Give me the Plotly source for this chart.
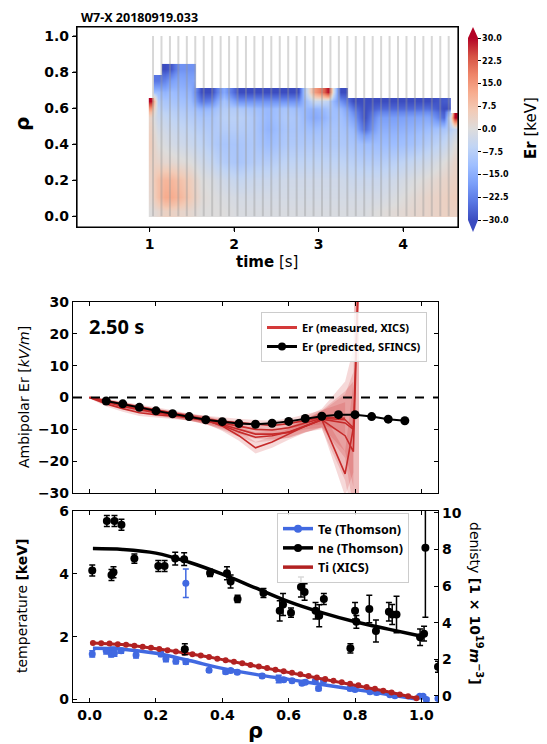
import plotly.graph_objects as go

# the page adds an 8 px body margin, so the figure is sized to fill the rest of the window
OFF = 8
W, H = 547 - OFF, 744 - OFF
def px(x): return (x - OFF) / W
def py(y): return 1 - (y - OFF) / H

N = None
# ---------------- top panel: Er(time, rho) ----------------
t_edges = [0.99, 1.05, 1.14, 1.22, 1.30, 1.42, 1.55, 1.68, 1.80, 1.96, 2.15, 2.30, 2.50,
           2.68, 2.84, 3.06, 3.17, 3.35, 3.47, 3.62, 3.80, 4.00, 4.20, 4.40, 4.57, 4.65]
rho_edges = [-0.005, 0.06, 0.15, 0.25, 0.35, 0.45, 0.52, 0.58, 0.62, 0.66, 0.715, 0.79, 0.845]
# one list per time column, rho rows from centre to edge (keV colour units)
er_columns = [
    [0, 2, 3, 4, 5, 4, 3, 15, 30, N, N, N],
    [2, 8, 8, 3, 0, -2, -4, -6, -8, -12, -24, N],
    [4, 12, 10, 2, -1, -3, -5, -8, -10, -14, -22, -30],
    [4, 12, 10, 2, -2, -4, -6, -8, -10, -12, -18, -28],
    [3, 10, 8, 1, -3, -5, -7, -9, -11, -13, -16, -20],
    [2, 6, 5, 0, -4, -6, -8, -10, -12, -14, -17, -20],
    [0, 1, 0, -3, -6, -8, -10, -14, -24, -30, N, N],
    [0, 0, -1, -5, -8, -9, -10, -13, -22, -30, N, N],
    [0, -1, -3, -8, -10, -8, -7, -8, -10, -16, N, N],
    [-1, -2, -5, -10, -10, -8, -7, -9, -20, -30, N, N],
    [-1, -2, -4, -8, -9, -9, -9, -11, -20, -30, N, N],
    [-1, -2, -4, -8, -12, -14, -13, -13, -20, -30, N, N],
    [-1, -2, -3, -6, -9, -10, -9, -10, -20, -30, N, N],
    [-1, -2, -3, -6, -9, -10, -10, -12, -20, -30, N, N],
    [-1, -2, -3, -6, -9, -12, -16, -14, -4, 14, N, N],
    [-1, -2, -3, -6, -9, -10, -12, -10, -6, 30, N, N],
    [-1, -2, -3, -6, -9, -10, -11, -13, -20, -30, N, N],
    [-1, -2, -4, -7, -10, -13, -18, -24, -30, N, N, N],
    [-1, -2, -4, -8, -12, -26, -30, -30, -30, N, N, N],
    [0, -2, -4, -8, -12, -15, -18, -26, -30, N, N, N],
    [1, -1, -3, -7, -12, -15, -18, -26, -30, N, N, N],
    [2, 1, -1, -5, -11, -14, -17, -26, -30, N, N, N],
    [3, 3, 1, -3, -8, -12, -16, -25, -30, N, N, N],
    [4, 4, 3, 0, -5, -10, -26, -30, -28, N, N, N],
    [4, 5, 4, 3, 0, -5, 30, N, N, N, N, N],
]
slice_times = [1.04, 1.14, 1.24, 1.34, 1.44, 1.54, 1.64, 1.74, 1.84, 1.94, 2.04, 2.14,
               2.24, 2.34, 2.44, 2.54, 2.64, 2.74, 2.84, 2.94, 3.04, 3.14, 3.24, 3.34,
               3.44, 3.54, 3.64, 3.74, 3.84, 3.94, 4.04, 4.14, 4.24, 4.34, 4.44, 4.54]
cbar_ticks = [-30, -22.5, -15, -7.5, 0, 7.5, 15, 22.5, 30]
time_ticks = [1, 2, 3, 4]
rho_ticks_top = [0.0, 0.2, 0.4, 0.6, 0.8, 1.0]

# ---------------- middle panel: ambipolar Er ----------------
rho_xics = [0.0, 0.05, 0.1, 0.15, 0.2, 0.25, 0.3, 0.35, 0.4, 0.45, 0.5, 0.55, 0.6, 0.65, 0.7, 0.77, 0.795, 0.812]
er_meas = [
    [0, -2.0, -3.5, -4.8, -5.4, -5.8, -6.2, -7.0, -9.0, -12.0, -15.8, -14.0, -11.5, -9.0, -7.0, -24.0, -9.5, N],
    [0, -1.5, -2.8, -3.8, -4.8, -5.5, -6.3, -7.2, -8.8, -10.8, -12.5, -12.0, -10.8, -8.8, -7.0, -12.0, -17.0, 45],
    [0, -1.0, -2.2, -3.4, -4.5, -5.3, -6.2, -7.3, -8.5, -10.0, -11.5, -11.5, -11.0, -9.0, -6.8, -8.0, -10.0, N],
    [0, -1.2, -2.5, -3.6, -4.6, -5.4, -6.2, -7.0, -8.0, -9.0, -10.0, -10.2, -9.5, -8.0, -6.5, -7.0, -9.5, 45],
    [0, -1.0, -2.0, -3.0, -4.0, -5.0, -6.0, -6.8, -7.5, -8.0, -8.5, -8.8, -8.2, -7.2, -6.2, -6.5, N, N],
]
er_meas_err = [
    [0.3, 0.8, 1.0, 1.0, 1.0, 1.0, 1.0, 1.2, 1.5, 1.6, 1.8, 1.8, 1.8, 2.0, 2.5, 7.0, 14.0, N],
    [0.3, 0.6, 0.8, 1.0, 1.0, 1.0, 1.0, 1.2, 1.4, 1.5, 1.6, 1.6, 1.8, 2.0, 3.0, 14.0, 22.0, 90.0],
    [0.3, 0.6, 0.8, 0.9, 1.0, 1.0, 1.0, 1.2, 1.3, 1.5, 1.5, 1.6, 1.7, 2.0, 2.5, 9.0, 18.0, N],
    [0.3, 0.6, 0.8, 0.9, 1.0, 1.0, 1.0, 1.1, 1.3, 1.4, 1.5, 1.6, 1.7, 2.0, 3.0, 12.0, 25.0, 90.0],
    [0.3, 0.5, 0.7, 0.8, 0.9, 1.0, 1.0, 1.1, 1.2, 1.3, 1.4, 1.5, 1.6, 1.8, 2.2, 5.0, N, N],
]
rho_sfincs = [0.05, 0.10, 0.15, 0.20, 0.25, 0.30, 0.35, 0.40, 0.45, 0.50,
              0.55, 0.60, 0.65, 0.70, 0.75, 0.80, 0.85, 0.90, 0.95]
er_sfincs = [-1.1, -2.0, -3.1, -4.2, -5.1, -6.0, -7.0, -7.6, -8.2, -8.4,
             -8.1, -7.5, -6.6, -5.9, -5.4, -5.4, -6.0, -6.8, -7.3]

# ---------------- bottom panel: profiles ----------------
rho_ne = [0.008, 0.052, 0.066, 0.072, 0.075, 0.096, 0.135, 0.207, 0.226, 0.258, 0.285, 0.287,
          0.363, 0.414, 0.425, 0.446, 0.524, 0.573, 0.583, 0.607, 0.637, 0.648, 0.681, 0.692,
          0.706, 0.786, 0.800, 0.804, 0.843, 0.863, 0.902, 0.912, 0.925, 0.996, 1.008, 1.012, 1.05]
ne = [6.85, 9.55, 6.6, 6.75, 9.55, 9.35, 7.5, 7.1, 7.1, 7.5, 7.47, 2.55,
      6.72, 6.7, 6.25, 5.3, 5.62, 4.65, 5.0, 4.55, 5.95, 5.68, 4.65, 4.38,
      5.3, 2.6, 4.65, 4.05, 4.75, 3.55, 4.6, 4.45, 4.45, 3.2, 3.4, 8.1, 1.6]
ne_err = [0.3, 0.3, 0.3, 0.3, 0.3, 0.3, 0.25, 0.3, 0.3, 0.35, 0.35, 0.3,
          0.2, 0.35, 0.35, 0.2, 0.25, 0.55, 0.6, 0.25, 0.55, 0.45, 0.45, 0.6,
          0.3, 0.25, 0.45, 0.35, 0.75, 0.6, 0.5, 0.55, 1.0, 0.45, 0.4, 3.8, 0.3]
rho_te = [0.008, 0.05, 0.065, 0.07, 0.075, 0.095, 0.14, 0.215, 0.23, 0.26, 0.29, 0.29,
          0.36, 0.41, 0.425, 0.445, 0.52, 0.57, 0.585, 0.61, 0.64, 0.65, 0.68, 0.69,
          0.705, 0.785, 0.80, 0.845, 0.865, 0.905, 0.92, 0.995, 1.005, 1.015, 1.05]
te = [1.45, 1.55, 1.45, 1.55, 1.48, 1.55, 1.42, 1.45, 1.3, 1.22, 1.2, 3.7,
      0.93, 0.88, 0.92, 0.87, 0.75, 0.65, 0.63, 0.6, 0.52, 0.55, 0.58, 0.35,
      0.6, 0.35, 0.32, 0.25, 0.22, 0.15, 0.12, 0.1, 0.1, 0.0, 0.03]
te_err = [0.1, 0.1, 0.1, 0.12, 0.1, 0.08, 0.1, 0.08, 0.1, 0.08, 0.08, 0.45,
          0.06, 0.06, 0.06, 0.06, 0.06, 0.12, 0.06, 0.06, 0.06, 0.06, 0.06, 0.06,
          0.06, 0.06, 0.06, 0.06, 0.06, 0.05, 0.05, 0.05, 0.05, 0.05, 0.05]
rho_fit = [0.01, 0.1, 0.2, 0.3, 0.4, 0.5, 0.6, 0.7, 0.8, 0.9, 0.99]
te_fit = [1.63, 1.60, 1.47, 1.24, 0.99, 0.80, 0.64, 0.48, 0.32, 0.16, 0.01]
ne_fit = [8.05, 8.0, 7.8, 7.3, 6.65, 5.9, 5.15, 4.55, 4.05, 3.65, 3.3]
rho_ti = [0.010, 0.035, 0.060, 0.085, 0.110, 0.135, 0.160, 0.185, 0.210, 0.235, 0.260, 0.285,
          0.310, 0.335, 0.360, 0.385, 0.410, 0.435, 0.460, 0.485, 0.510, 0.535, 0.560, 0.585,
          0.610, 0.635, 0.660, 0.685, 0.710, 0.735, 0.760, 0.785, 0.810, 0.835, 0.860, 0.885,
          0.910, 0.935, 0.960, 0.985]
ti = [1.80, 1.79, 1.78, 1.76, 1.74, 1.71, 1.68, 1.65, 1.61, 1.57, 1.53, 1.49,
      1.44, 1.40, 1.35, 1.30, 1.25, 1.20, 1.15, 1.10, 1.05, 1.00, 0.95, 0.90,
      0.85, 0.80, 0.75, 0.70, 0.65, 0.60, 0.55, 0.50, 0.45, 0.40, 0.34, 0.28,
      0.22, 0.16, 0.10, 0.04]

# ---------------- styling ----------------
coolwarm = [[0.0, '#3b4cc0'], [0.1, '#5977e3'], [0.2, '#7b9ff9'], [0.3, '#9ebeff'],
            [0.4, '#c0d4f5'], [0.5, '#dddcdc'], [0.6, '#f2cbb7'], [0.7, '#f7ac8e'],
            [0.8, '#ee8468'], [0.9, '#d65244'], [1.0, '#b40426']]
TF = 'DejaVu Sans'
TXT = 'Noto Sans'
BLUE = '#4169e1'
RED_TI = '#b22222'
RED_ER = '#c62a2a'

fig = go.Figure()

z = [list(r) for r in zip(*er_columns)]
fig.add_trace(go.Heatmap(
    x=t_edges, y=rho_edges, z=z, zsmooth='best', zmin=-30, zmax=30,
    colorscale=coolwarm, xaxis='x', yaxis='y', hoverinfo='skip',
    colorbar=dict(x=px(468), xanchor='left', y=py(129), yanchor='middle', xpad=0, ypad=0,
                  len=182 / H, lenmode='fraction', thickness=10, thicknessmode='pixels',
                  outlinewidth=0, tickvals=cbar_ticks,
                  ticktext=[f'{v:.1f}'.replace('-', '\u2212') for v in cbar_ticks],
                  ticks='outside', ticklen=3, tickcolor='black',
                  tickfont=dict(family=TF, size=8, color='black', weight='bold'))))

vx, vy = [], []
for t in slice_times:
    vx += [t, t, None]
    vy += [0.0, 1.0, None]
fig.add_trace(go.Scatter(x=vx, y=vy, mode='lines', line=dict(color='rgba(150,150,150,0.38)', width=2),
                         xaxis='x', yaxis='y', showlegend=False, hoverinfo='skip'))

# middle panel bands and lines
for prof, err in zip(er_meas, er_meas_err):
    idx = [i for i, v in enumerate(prof) if v is not None]
    xs = [rho_xics[i] for i in idx]
    up = [prof[i] + err[i] for i in idx]
    lo = [prof[i] - err[i] for i in idx]
    fig.add_trace(go.Scatter(x=xs + xs[::-1], y=up + lo[::-1], fill='toself', mode='lines',
                             line=dict(width=0), fillcolor='rgba(205,45,45,0.18)',
                             xaxis='x2', yaxis='y2', showlegend=False, hoverinfo='skip'))
for prof in er_meas:
    idx = [i for i, v in enumerate(prof) if v is not None]
    fig.add_trace(go.Scatter(x=[rho_xics[i] for i in idx], y=[prof[i] for i in idx], mode='lines',
                             line=dict(color=RED_ER, width=1.6), xaxis='x2', yaxis='y2',
                             showlegend=False, hoverinfo='skip'))
fig.add_trace(go.Scatter(x=rho_sfincs, y=er_sfincs, mode='lines+markers',
                         line=dict(color='black', width=2), marker=dict(color='black', size=9),
                         xaxis='x2', yaxis='y2', showlegend=False))
fig.add_trace(go.Scatter(x=[None], y=[None], mode='lines', line=dict(color='#d43a3a', width=3),
                         name='Er (measured, XICS)', legend='legend', xaxis='x2', yaxis='y2'))
fig.add_trace(go.Scatter(x=[None], y=[None], mode='lines+markers', line=dict(color='black', width=3),
                         marker=dict(color='black', size=8),
                         name='Er (predicted, SFINCS)', legend='legend', xaxis='x2', yaxis='y2'))

# bottom panel
fig.add_trace(go.Scatter(x=rho_ne, y=ne, mode='markers', marker=dict(color='black', size=8),
                         error_y=dict(type='data', array=ne_err, color='black', thickness=1.5, width=3),
                         xaxis='x3', yaxis='y4', showlegend=False))
fig.add_trace(go.Scatter(x=rho_fit, y=ne_fit, mode='lines', line=dict(color='black', width=3.5, shape='spline'),
                         xaxis='x3', yaxis='y4', showlegend=False))
fig.add_trace(go.Scatter(x=rho_te, y=te, mode='markers', marker=dict(color=BLUE, size=7),
                         error_y=dict(type='data', array=te_err, color=BLUE, thickness=1.5, width=3),
                         xaxis='x3', yaxis='y3', showlegend=False))
fig.add_trace(go.Scatter(x=rho_fit, y=te_fit, mode='lines', line=dict(color=BLUE, width=3.5, shape='spline'),
                         xaxis='x3', yaxis='y3', showlegend=False))
fig.add_trace(go.Scatter(x=rho_ti, y=ti, mode='lines+markers', line=dict(color=RED_TI, width=3),
                         marker=dict(color=RED_TI, size=6), xaxis='x3', yaxis='y3', showlegend=False))
fig.add_trace(go.Scatter(x=[None], y=[None], mode='lines+markers', line=dict(color=BLUE, width=3.5),
                         marker=dict(color=BLUE, size=8), name='Te (Thomson)', legend='legend2',
                         xaxis='x3', yaxis='y3'))
fig.add_trace(go.Scatter(x=[None], y=[None], mode='lines+markers', line=dict(color='black', width=3.5),
                         marker=dict(color='black', size=8), name='ne (Thomson)', legend='legend2',
                         xaxis='x3', yaxis='y3'))
fig.add_trace(go.Scatter(x=[None], y=[None], mode='lines', line=dict(color=RED_TI, width=3.5),
                         name='Ti (XICS)', legend='legend2', xaxis='x3', yaxis='y3'))

tick_font = dict(family=TF, size=14, color='black', weight='bold')
common = dict(showline=True, linecolor='black', linewidth=1.2, showgrid=False, zeroline=False,
              tickcolor='black', ticklen=4, tickwidth=1, tickfont=tick_font, automargin=False,
              layer='above traces')

def leg_style(size):
    return dict(bgcolor='rgba(255,255,255,0.85)', bordercolor='#cccccc', borderwidth=1,
                font=dict(family=TXT, size=size, color='black', weight='bold'),
                xanchor='left', yanchor='top', itemwidth=30, tracegroupgap=0)

fig.update_layout(
    template='none',
    width=W, height=H, margin=dict(l=0, r=0, t=0, b=0, pad=0, autoexpand=False),
    paper_bgcolor='white', plot_bgcolor='white',
    xaxis=dict(domain=[px(77), px(458)], range=[0.14, 4.65], anchor='y', ticks='outside',
               tickvals=time_ticks, mirror=True, **common),
    yaxis=dict(domain=[py(227), py(27)], range=[-0.06, 1.05], anchor='x', ticks='outside',
               tickvals=rho_ticks_top, tickformat='.1f', mirror=True, **common),
    xaxis2=dict(domain=[px(73), px(438)], range=[-0.05, 1.05], anchor='y2', ticks='inside',
                tickvals=[0, 0.2, 0.4, 0.6, 0.8, 1.0], showticklabels=False, mirror='ticks', **common),
    yaxis2=dict(domain=[py(493), py(302)], range=[-30, 30], anchor='x2', ticks='inside',
                tickvals=[-30, -20, -10, 0, 10, 20, 30], mirror='ticks', **common),
    xaxis3=dict(domain=[px(73), px(438)], range=[-0.05, 1.05], anchor='y3', ticks='inside',
                tickvals=[0, 0.2, 0.4, 0.6, 0.8, 1.0], tickformat='.1f', mirror='ticks', **common),
    yaxis3=dict(domain=[py(702), py(511)], range=[-0.08, 6.0], anchor='x3', ticks='inside',
                tickvals=[0, 2, 4, 6], mirror=True, **common),
    yaxis4=dict(overlaying='y3', side='right', anchor='x3', range=[-0.33, 10.1], ticks='inside',
                tickvals=[0, 2, 4, 6, 8, 10], **common),
    legend=dict(x=px(261), y=py(312), **leg_style(11)),
    legend2=dict(x=px(277), y=py(513), **leg_style(12.5)),
)

# frame and outside ticks of the top panel
fig.add_shape(type='rect', xref='x domain', yref='y domain', x0=0, x1=1, y0=0, y1=1,
              line=dict(color='black', width=1.2), fillcolor='rgba(0,0,0,0)', layer='above')
for tv in time_ticks:
    fig.add_shape(type='line', xref='x', yref='y domain', x0=tv, x1=tv, y0=0, y1=-4 / 200,
                  line=dict(color='black', width=1), layer='above')
for rv in rho_ticks_top:
    fig.add_shape(type='line', xref='x domain', yref='y', x0=0, x1=-4 / 381, y0=rv, y1=rv,
                  line=dict(color='black', width=1), layer='above')

# zero line in middle panel
fig.add_shape(type='line', xref='x2 domain', yref='y2', x0=0, x1=1, y0=0, y1=0,
              line=dict(color='black', width=2, dash='dash'))

# colorbar extension triangles
cx0, cx1, ctop, cbot = 468, 478, 38, 220
fig.add_shape(type='path', xref='paper', yref='paper', line=dict(width=0), fillcolor='#b40426',
              path=f'M {px(cx0)},{py(ctop)} L {px(cx1)},{py(ctop)} L {px((cx0 + cx1) / 2)},{py(ctop - 11)} Z')
fig.add_shape(type='path', xref='paper', yref='paper', line=dict(width=0), fillcolor='#3b4cc0',
              path=f'M {px(cx0)},{py(cbot)} L {px(cx1)},{py(cbot)} L {px((cx0 + cx1) / 2)},{py(cbot + 12)} Z')

def ann(text, x, y, size, angle=0, family=TF, xanchor='center', weight='normal', yanchor='middle'):
    fig.add_annotation(text=text, x=px(x), y=py(y), xref='paper', yref='paper', showarrow=False,
                       textangle=angle, xanchor=xanchor, yanchor=yanchor, borderpad=0,
                       font=dict(family=family, size=size, color='black', weight=weight))

ann('W7-X 20180919.033', 80, 8.5, 12.5, family=TXT, xanchor='left', weight='bold', yanchor='top')
ann('ρ', 22, 124, 20, angle=-90, weight='bold')
ann('<b>time</b> [s]', 267, 262, 15)
ann('<b>Er</b> [keV]', 531, 128, 15, angle=-90)
ann('Ambipolar Er [<i>kV/m</i>]', 24, 397, 14, angle=-90)
ann('2.50 s', 88, 326, 20, family=TXT, xanchor='left', weight='bold')
ann('temperature <b>[keV]</b>', 22, 606, 14, angle=-90)
ann('denisty <b>[1 × 10<sup>19</sup><i>m</i><sup>−3</sup>]</b>', 476, 603, 14, angle=90)
ann('ρ', 255, 731, 21, weight='bold')

fig.write_html('out.html')
